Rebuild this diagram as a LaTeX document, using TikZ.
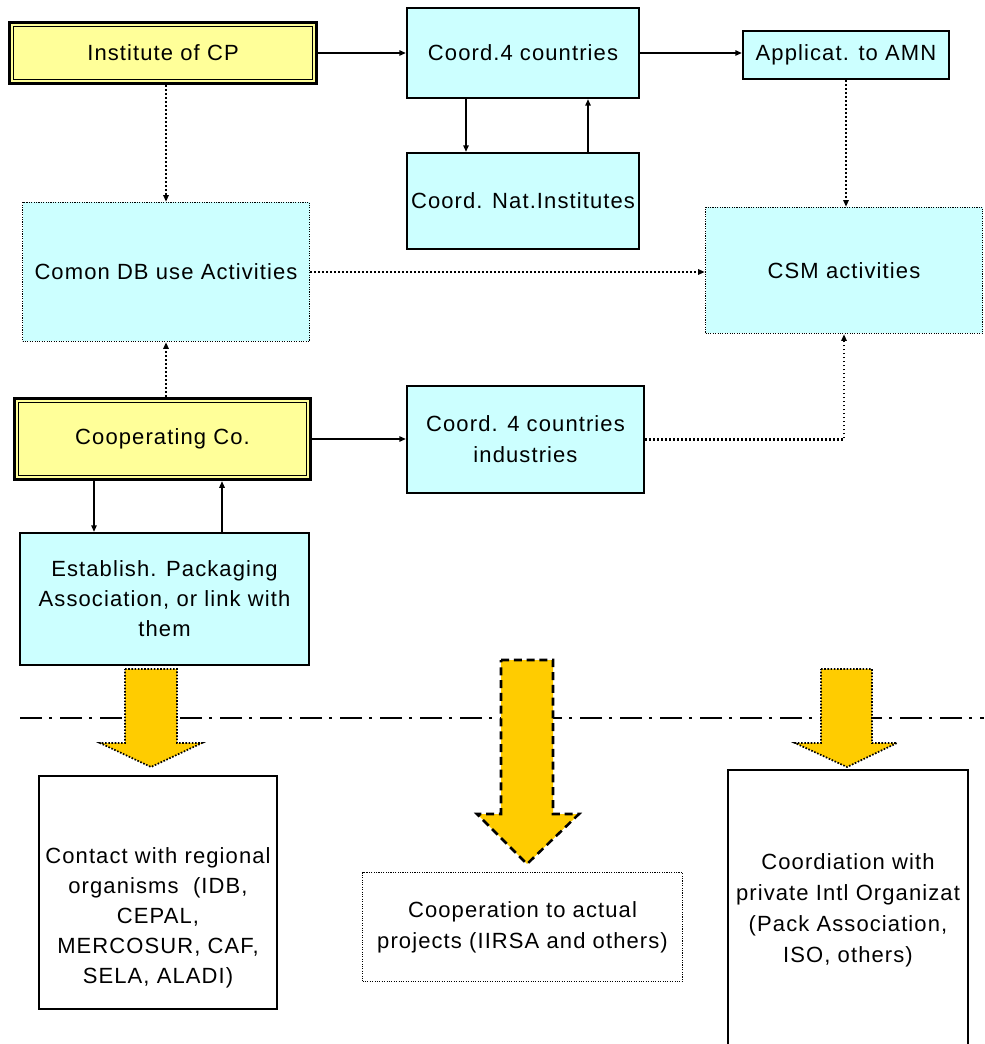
\documentclass[tikz,border=0pt]{standalone}
\usepackage{fontspec}
\setmainfont{Liberation Sans}[LetterSpace=5]
\usetikzlibrary{arrows.meta,calc}
\definecolor{paleyellow}{HTML}{FFFF99}
\definecolor{palecyan}{HTML}{CCFFFF}
\definecolor{gold}{HTML}{FFCC00}

\begin{document}
\begin{tikzpicture}[x=0.75pt,y=-0.75pt,
  font=\fontsize{16.5}{22.5}\selectfont,
  sz/.style 2 args={minimum width=#1*0.75pt,minimum height=#2*0.75pt},
  base/.style={rectangle,inner sep=0pt,align=center},
  cyanbox/.style={base,draw,line width=1.6pt,fill=palecyan},
  dotbox/.style={base,draw,line width=1.1pt,dash pattern=on 0.8pt off 1pt,fill=palecyan},
  yellowbox/.style={base,draw,line width=2.4pt,fill=paleyellow},
  plainbox/.style={base,draw,line width=1.6pt},
  innerline/.style={line width=1.3pt},
  arr/.style={line width=1.5pt,-{Triangle[length=5pt,width=4pt]}},
  darr/.style={line width=1.6pt,dash pattern=on 1.4pt off 1.6pt,-{Triangle[length=5pt,width=4pt]}},
  blockdot/.style={fill=gold,draw,line width=1.3pt,dash pattern=on 1.2pt off 1.2pt},
  blockdash/.style={fill=gold,draw,line width=1.9pt,dash pattern=on 6pt off 3.6pt},
  dashdotline/.style={line width=2.2pt,dash pattern=on 16.5pt off 5.25pt on 2.25pt off 6pt},
  txt/.style={align=center,inner sep=0pt}
]
\useasboundingbox (0,0) rectangle (984,1044);
\clip (0,0) rectangle (984,1044);

% upper row of boxes
\node[yellowbox,sz={307}{61}] (inst) at (163,53) {Institute of CP};
\draw[innerline] ($(inst.north west)+(5.5,5.5)$) rectangle ($(inst.south east)+(-5.5,-5.5)$);
\node[cyanbox,sz={232}{90}] (c4) at (523,53) {Coord.4 countries};
\node[cyanbox,sz={232}{96}] (nat) at (523,201) {Coord. Nat.Institutes};
\node[cyanbox,sz={206}{48}] (amn) at (846,55) {Applicat. to AMN};

% activity boxes
\node[dotbox,sz={287}{139}] (db) at (166,272) {Comon DB use Activities};
\node[dotbox,sz={277}{126}] (csm) at (844,270.5) {CSM activities};

% cooperating company and its links
\node[yellowbox,sz={296}{81}] (coop) at (162.5,439) {Cooperating Co.};
\draw[innerline] ($(coop.north west)+(5.5,5.5)$) rectangle ($(coop.south east)+(-5.5,-5.5)$);
\node[cyanbox,sz={237}{107},font=\fontsize{16.5}{23.25}\selectfont] (c4i) at (525.5,439.5) {Coord. 4 countries\\industries};
\node[cyanbox,sz={289}{132}] (est) at (164.5,599) {Establish. Packaging\\Association, or link with\\them};

% connectors
\draw[arr] (inst) -- (c4);
\draw[arr] (c4.east) -- (c4.east -| amn.west);
\draw[arr] ($(c4.south)+(-57,0)$) -- ($(nat.north)+(-57,0)$);
\draw[arr] ($(nat.north)+(65,0)$) -- ($(c4.south)+(65,0)$);
\draw[darr] (inst.south -| db.north) -- (db.north);
\draw[darr] (coop.north -| db.south) -- (db.south);
\draw[darr] (db.east) -- (db.east -| csm.west);
\draw[darr] (amn.south) -- (amn.south |- csm.north);
\draw[arr] (coop.east) -- (coop.east -| c4i.west);
\draw[darr] (c4i.east) -| (csm.south);
\draw[arr] ($(coop.south)+(-68.5,0)$) -- ($(est.north)+(-70.5,0)$);
\draw[arr] ($(est.north)+(57.5,0)$) -- ($(coop.south)+(59.5,0)$);

% boundary line
\draw[dashdotline] (20,718) -- (984,718);

% block arrows
\draw[blockdot] (125,669) -- (177,669) -- (177,743) -- (202,743) -- (151,767) -- (100,743) -- (125,743) -- cycle;
\draw[blockdash] (501,660) -- (553,660) -- (553,814) -- (579,814) -- (527,864) -- (477,814) -- (501,814) -- cycle;
\draw[blockdot] (821,669) -- (872,669) -- (872,743) -- (897,743) -- (847,767) -- (795,743) -- (821,743) -- cycle;

% lower boxes
\node[plainbox,sz={238}{233}] (contact) at (158,892.5) {};
\node[txt] (contacttext) at (158,917.5) {Contact with regional\\organisms\ \ (IDB,\\CEPAL,\\MERCOSUR, CAF,\\SELA, ALADI)};
\node[base,draw,line width=1.1pt,dash pattern=on 0.8pt off 1pt,sz={320}{109},font=\fontsize{16.5}{23.25}\selectfont] (proj) at (522.5,927) {Cooperation to actual\\projects (IIRSA and others)};
\draw[line width=1.6pt] (728,1060) |- (968,770) coordinate (pvt) -- (968,1060);
\node[txt,font=\fontsize{16.5}{23.25}\selectfont] (pvttext) at (848,910) {Coordiation with\\private Intl Organizat\\(Pack Association,\\ISO, others)};
\end{tikzpicture}
\end{document}
